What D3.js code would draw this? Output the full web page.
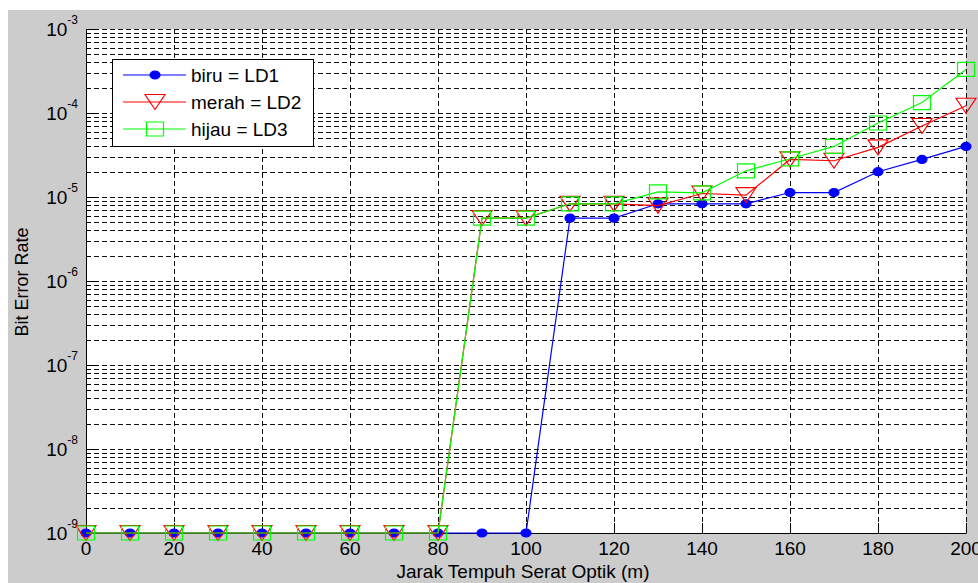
<!DOCTYPE html>
<html>
<head>
<meta charset="utf-8">
<script src="https://cdn.jsdelivr.net/npm/d3@7"></script>
<style>
  html, body { margin: 0; padding: 0; background: #fff; }
  svg text { font-family: "Liberation Sans", Arial, sans-serif; fill: #000; }
</style>
</head>
<body>
<div id="chart"></div>
<script>

// jarak (m) dan BER tiap laser diode
var jarak = [0, 10, 20, 30, 40, 50, 60, 70, 80, 90, 100, 110, 120, 130, 140, 150, 160, 170, 180, 190, 200];
var biru  = [1e-9, 1e-9, 1e-9, 1e-9, 1e-9, 1e-9, 1e-9, 1e-9, 1e-9, 1e-9, 1e-9,
             5.6e-6, 5.6e-6, 8.3e-6, 8.3e-6, 8.3e-6, 1.13e-5, 1.13e-5, 2.0e-5, 2.8e-5, 4.0e-5];
var merah = [1e-9, 1e-9, 1e-9, 1e-9, 1e-9, 1e-9, 1e-9, 1e-9, 1e-9,
             5.6e-6, 5.6e-6, 8.3e-6, 8.3e-6, 7.9e-6, 1.1e-5, 1.05e-5, 2.8e-5, 2.7e-5, 3.9e-5, 7.0e-5, 1.22e-4];
var hijau = [1e-9, 1e-9, 1e-9, 1e-9, 1e-9, 1e-9, 1e-9, 1e-9, 1e-9,
             5.6e-6, 5.6e-6, 8.3e-6, 8.3e-6, 1.15e-5, 1.12e-5, 2.05e-5, 2.85e-5, 4.0e-5, 7.6e-5, 1.33e-4, 3.3e-4];

var xTicks = [0, 20, 40, 60, 80, 100, 120, 140, 160, 180, 200];
var yExp = [-9, -8, -7, -6, -5, -4, -3];
var legendLabels = ["biru = LD1", "merah = LD2", "hijau = LD3"];

var width = 978,
    height = 583;
// plot box (note: "top" is reserved on window, so use p-prefixed names)
var pLeft = 86, pRight = 966, pTop = 29, pBottom = 533;

var svg = d3.select("#chart")
   .append("svg")
   .attr("width", width)
   .attr("height", height);

// figure background
svg.append("rect")
   .attr("x", 8).attr("y", 10)
   .attr("width", width - 8).attr("height", height - 10)
   .attr("fill", "#cccccc");

svg.append("rect")
   .attr("x", pLeft).attr("y", pTop)
   .attr("width", pRight - pLeft).attr("height", pBottom - pTop)
   .attr("fill", "#fff");

var x = d3.scaleLinear().domain([0, 200]).range([pLeft, pRight]);
var y = d3.scaleLog().domain([1e-9, 1e-3]).range([pBottom, pTop]);

// minor + major log positions
var yGrid = [];
yExp.forEach(function(e) {
   if (e == -3) { yGrid.push(1e-3); return; }
   for (var m = 1; m <= 9; m++) yGrid.push(m * Math.pow(10, e));
});

function isMajor(d) {
   return Math.abs(Math.log10(d) - Math.round(Math.log10(d))) < 1e-9;
}

var grid = svg.append("g")
   .attr("stroke", "#111")
   .attr("stroke-width", 1)
   .attr("stroke-dasharray", "5,3");

grid.selectAll("line.h")
   .data(yGrid)
   .enter()
   .append("line")
   .attr("x1", pLeft).attr("x2", pRight)
   .attr("y1", function(d) { return Math.round(y(d)) + 0.5; })
   .attr("y2", function(d) { return Math.round(y(d)) + 0.5; });

grid.selectAll("line.v")
   .data(xTicks.slice(1))
   .enter()
   .append("line")
   .attr("y1", pTop).attr("y2", pBottom)
   .attr("x1", function(d) { return Math.round(x(d)) + 0.5; })
   .attr("x2", function(d) { return Math.round(x(d)) + 0.5; });

// axes (box off: only left and bottom)
var axis = svg.append("g").attr("stroke", "#000").attr("stroke-width", 1);
axis.append("line")
   .attr("x1", pLeft + 0.5).attr("x2", pLeft + 0.5)
   .attr("y1", pTop).attr("y2", pBottom + 0.5);
axis.append("line")
   .attr("x1", pLeft).attr("x2", pRight + 0.5)
   .attr("y1", pBottom + 0.5).attr("y2", pBottom + 0.5);

axis.selectAll("line.xt")
   .data(xTicks)
   .enter()
   .append("line")
   .attr("x1", function(d) { return Math.round(x(d)) + 0.5; })
   .attr("x2", function(d) { return Math.round(x(d)) + 0.5; })
   .attr("y1", pBottom).attr("y2", pBottom - 10);

axis.selectAll("line.yt")
   .data(yGrid)
   .enter()
   .append("line")
   .attr("x1", pLeft)
   .attr("x2", function(d) { return pLeft + (isMajor(d) ? 11 : 5); })
   .attr("y1", function(d) { return Math.round(y(d)) + 0.5; })
   .attr("y2", function(d) { return Math.round(y(d)) + 0.5; });

// tick labels
svg.selectAll("text.xl")
   .data(xTicks)
   .enter()
   .append("text")
   .attr("x", function(d) { return x(d); })
   .attr("y", 555)
   .attr("text-anchor", "middle")
   .style("font-size", "19px")
   .text(function(d) { return d; });

var yl = svg.selectAll("text.yl")
   .data(yExp)
   .enter()
   .append("text")
   .attr("x", 78)
   .attr("y", function(d) { return y(Math.pow(10, d)) + 6.5; })
   .attr("text-anchor", "end");
yl.append("tspan").style("font-size", "19px").text("10");
yl.append("tspan").style("font-size", "12px").attr("dy", -12)
   .text(function(d) { return d; });

svg.append("text")
   .attr("x", 523).attr("y", 578)
   .attr("text-anchor", "middle")
   .style("font-size", "19px")
   .text("Jarak Tempuh Serat Optik (m)");

svg.append("text")
   .attr("transform", "translate(28,282) rotate(-90)")
   .attr("text-anchor", "middle")
   .style("font-size", "18px")
   .text("Bit Error Rate");

// marker shapes
function markerPath(kind) {
   if (kind == "v") return "M-10,-7.5L10,-7.5L0,7.5Z";
   if (kind == "s") return "M-8.5,-7L8.5,-7L8.5,7L-8.5,7Z";
   return "M-5,0A5,4 0 1,0 5,0A5,4 0 1,0 -5,0Z";
}

var series = [
   { values: biru,  color: "#0000ff", marker: "o", fill: "#0000ff" },
   { values: merah, color: "#ff0000", marker: "v", fill: "none" },
   { values: hijau, color: "#00ff00", marker: "s", fill: "none" }
];

var line = d3.line()
   .x(function(d, i) { return x(jarak[i]); })
   .y(function(d) { return y(d); });

series.forEach(function(s) {
   svg.append("path")
      .attr("d", line(s.values))
      .attr("fill", "none")
      .attr("stroke", s.color)
      .attr("stroke-width", 1.2);

   svg.selectAll(null)
      .data(s.values)
      .enter()
      .append("path")
      .attr("transform", function(d, i) { return "translate(" + x(jarak[i]) + "," + y(d) + ")"; })
      .attr("d", markerPath(s.marker))
      .attr("fill", s.fill)
      .attr("stroke", s.color)
      .attr("stroke-width", 1.2);
});

// legend
var legend = svg.append("g");
legend.append("rect")
   .attr("x", 112.5).attr("y", 59.5)
   .attr("width", 201).attr("height", 87)
   .attr("fill", "#fff")
   .attr("stroke", "#000");

var item = legend.selectAll("g")
   .data(series)
   .enter()
   .append("g")
   .attr("transform", function(d, i) { return "translate(0," + (75 + i * 27) + ")"; });

item.append("line")
   .attr("x1", 123).attr("x2", 186)
   .attr("stroke", function(d) { return d.color; })
   .attr("stroke-width", 1.2);
item.append("path")
   .attr("transform", "translate(155,0)")
   .attr("d", function(d) { return markerPath(d.marker); })
   .attr("fill", function(d) { return d.fill; })
   .attr("stroke", function(d) { return d.color; })
   .attr("stroke-width", 1.2);
item.append("text")
   .attr("x", 191)
   .attr("dy", ".35em")
   .style("font-size", "19px")
   .text(function(d, i) { return legendLabels[i]; });

</script>
</body>
</html>
